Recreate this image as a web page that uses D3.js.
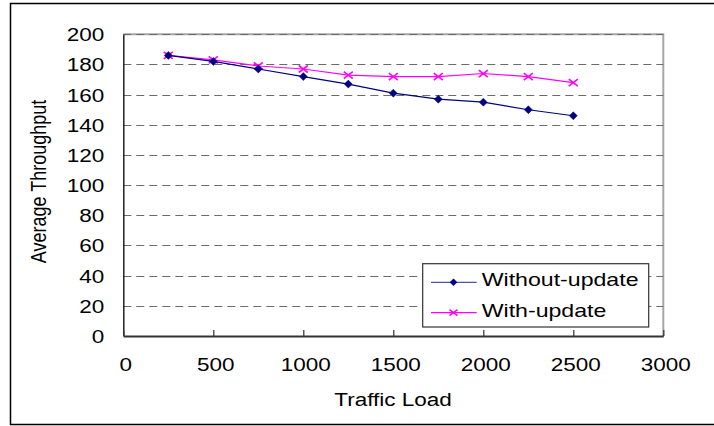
<!DOCTYPE html>
<html>
<head>
<meta charset="utf-8">
<script src="https://cdn.jsdelivr.net/npm/d3@7/dist/d3.min.js"></script>
<style>
  html, body { margin: 0; padding: 0; background: #fff; }
  svg { display: block; }
  text { font-family: "Liberation Sans", Arial, sans-serif; fill: #000; }
</style>
</head>
<body>
<svg id="chart" width="714" height="426"></svg>
<script>
// Average throughput against traffic load, with and without updates
const loads = [250, 500, 750, 1000, 1250, 1500, 1750, 2000, 2250, 2500];
const withoutUpdate = [186, 182, 177, 172, 167, 161, 157, 155, 150, 146];
const withUpdate = [186, 183, 179, 177, 173, 172, 172, 174, 172, 168];
const seriesNames = ["Without-update", "With-update"];
const xTicks = [0, 500, 1000, 1500, 2000, 2500, 3000];
const yTicks = [0, 20, 40, 60, 80, 100, 120, 140, 160, 180, 200];
const xTitle = "Traffic Load";
const yTitle = "Average Throughput";

const svg = d3.select("#chart");
const stretch = "scale(1.25,1)";
const fontSize = 18;

const plot = { left: 123.3, right: 663.3, top: 34.3, bottom: 336 };
const x = d3.scaleLinear().domain([0, 3000]).range([plot.left, plot.right]);
const y = d3.scaleLinear().domain([0, 200]).range([plot.bottom, plot.top]);

// outer frame (right side runs past the page edge)
svg.append("rect")
  .attr("x", 10.5).attr("y", 3.5).attr("width", 720).attr("height", 421)
  .attr("fill", "#fff").attr("stroke", "#000").attr("stroke-width", 1.5);

// plot area border: light grey top and right
svg.append("path")
  .attr("d", `M${plot.left},${plot.top}H${plot.right}V${plot.bottom}`)
  .attr("fill", "none").attr("stroke", "#a6a6a6").attr("stroke-width", 2);

// dashed horizontal gridlines
svg.append("g")
  .selectAll("line")
  .data(yTicks.filter(d => d > 0))
  .join("line")
  .attr("x1", x(0)).attr("x2", x(3000))
  .attr("y1", d => Math.round(y(d)) + 0.5).attr("y2", d => Math.round(y(d)) + 0.5)
  .attr("stroke", "#6b6b6b").attr("stroke-width", 1.2)
  .attr("stroke-dasharray", "8,5");

// y axis
const yAxis = svg.append("g")
  .attr("transform", `translate(${plot.left},0)`)
  .call(d3.axisLeft(y).tickValues(yTicks).tickFormat(d3.format("d")).tickSize(0).tickPadding(0));
yAxis.select(".domain").attr("stroke", "#222").attr("stroke-width", 1.5);
yAxis.selectAll("text")
  .attr("x", null).attr("dy", "0.36em")
  .attr("transform", `translate(-19,0) ${stretch}`)
  .attr("text-anchor", "end")
  .style("font-size", fontSize + "px")
  .style("font-family", '"Liberation Sans", Arial, sans-serif')
  .attr("fill", "#000");

// x axis with inward ticks
const xAxis = svg.append("g")
  .attr("transform", `translate(0,${plot.bottom})`)
  .call(d3.axisBottom(x).tickValues(xTicks).tickFormat(d3.format("d"))
    .tickSizeInner(-6).tickSizeOuter(0).tickPadding(0));
xAxis.select(".domain").attr("stroke", "#333").attr("stroke-width", 2.2);
xAxis.selectAll(".tick line").attr("stroke", "#333").attr("stroke-width", 1.2);
xAxis.selectAll("text")
  .attr("y", 34.7).attr("dy", null)
  .attr("transform", `translate(2,0) ${stretch}`)
  .style("font-size", fontSize + "px")
  .style("font-family", '"Liberation Sans", Arial, sans-serif')
  .attr("fill", "#000");

// axis titles
svg.append("text")
  .attr("transform", `translate(393,405.7) ${stretch}`)
  .attr("text-anchor", "middle")
  .style("font-size", fontSize + "px")
  .text(xTitle);

svg.append("text")
  .attr("transform", `translate(45.7,181.5) ${stretch} rotate(-90)`)
  .attr("text-anchor", "middle")
  .style("font-size", fontSize + "px")
  .text(yTitle);

// series
const diamond = r => `M0,${-r}L${r},0L0,${r}L${-r},0Z`;
const cross = (rx, ry) => `M${-rx},${-ry}L${rx},${ry}M${-rx},${ry}L${rx},${-ry}`;

const series = [
  { name: seriesNames[0], values: withoutUpdate, color: "#000080", marker: "diamond" },
  { name: seriesNames[1], values: withUpdate, color: "#ff00ff", marker: "cross" }
];

const line = d3.line().x(d => x(d[0])).y(d => y(d[1]));

// draw the lower series last so it sits on top where they meet
[series[1], series[0]].forEach(s => {
  const pts = loads.map((l, i) => [l, s.values[i]]);
  svg.append("path")
    .attr("d", line(pts))
    .attr("fill", "none").attr("stroke", s.color).attr("stroke-width", 1.2);
  svg.append("g").selectAll("path")
    .data(pts)
    .join("path")
    .attr("transform", d => `translate(${x(d[0])},${y(d[1])})`)
    .attr("d", s.marker === "diamond" ? diamond(4) : cross(4.5, 3.5))
    .attr("fill", s.marker === "diamond" ? s.color : "none")
    .attr("stroke", s.color)
    .attr("stroke-width", s.marker === "diamond" ? 0.5 : 1.6);
});

// legend
const legend = svg.append("g");
legend.append("rect")
  .attr("x", 422.7).attr("y", 263.7).attr("width", 226).attr("height", 63.3)
  .attr("fill", "#fff").attr("stroke", "#333").attr("stroke-width", 1.2);

const legendRows = [282.3, 312.7];
const legendBase = [285.7, 316.7];
series.forEach((s, i) => {
  const g = legend.append("g");
  g.append("line")
    .attr("x1", 431).attr("x2", 476.7)
    .attr("y1", legendRows[i]).attr("y2", legendRows[i])
    .attr("stroke", i === 0 ? "#5050b0" : s.color).attr("stroke-width", 1.2);
  g.append("path")
    .attr("transform", `translate(453.5,${legendRows[i]})`)
    .attr("d", s.marker === "diamond" ? diamond(3.5) : cross(4, 3))
    .attr("fill", s.marker === "diamond" ? s.color : "none")
    .attr("stroke", s.color)
    .attr("stroke-width", s.marker === "diamond" ? 0.5 : 1.6);
  g.append("text")
    .attr("transform", `translate(481.7,${legendBase[i]}) ${stretch}`)
    .style("font-size", "18.5px")
    .text(s.name);
});
</script>
</body>
</html>
